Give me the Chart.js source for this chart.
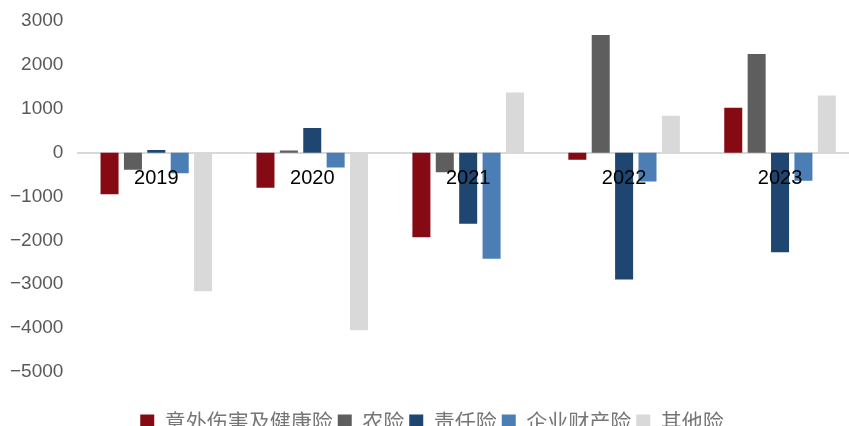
<!DOCTYPE html>
<html>
<head>
<meta charset="utf-8">
<script src="https://cdn.jsdelivr.net/npm/chart.js@4/dist/chart.umd.min.js"></script>
<style>
  html, body { margin: 0; padding: 0; background: #fff; overflow: hidden; }
  /* plot runs a little past the right edge, like the reference */
  #wrap { width: 858px; height: 426px; }
</style>
</head>
<body>
<div id="wrap"><canvas id="chart"></canvas></div>
<script>
// Data
const years = ['2019', '2020', '2021', '2022', '2023'];
const accidentHealth = [-950, -800, -1930, -160, 1020];
const agriculture = [-390, 50, -450, 2680, 2250];
const liability = [60, 560, -1620, -2890, -2270];
const enterpriseProperty = [-470, -340, -2420, -660, -640];
const others = [-3160, -4050, 1370, 840, 1300];

const seriesNames = ['意外伤害及健康险', '农险', '责任险', '企业财产险', '其他险'];
const seriesColors = ['#850A14', '#5E5E5E', '#1E4670', '#4A7EB4', '#D9D9D9'];
const seriesValues = [accidentHealth, agriculture, liability, enterpriseProperty, others];

const ctx = document.getElementById('chart').getContext('2d');

const chart = new Chart(ctx, {
    type: 'bar',
    data: {
        labels: years,
        datasets: seriesNames.map((name, i) => ({
            label: name,
            data: seriesValues[i],
            backgroundColor: seriesColors[i],
            barPercentage: 0.77,
            categoryPercentage: 0.75
        }))
    },
    options: {
        responsive: true,
        maintainAspectRatio: false,
        animation: false,
        layout: { padding: { top: 21, right: 0, left: 6, bottom: -16 } },
        plugins: {
            tooltip: { enabled: false },
            legend: {
                position: 'bottom',
                labels: {
                    font: { family: '"Noto Sans CJK SC", sans-serif', size: 21 },
                    color: '#767676',
                    boxWidth: 14,
                    boxHeight: 14,
                    padding: 5
                }
            }
        },
        scales: {
            x: {
                position: { y: 0 },
                grid: { display: false },
                border: { color: '#D9D9D9', width: 2 },
                ticks: {
                    z: 1, // year labels sit on top of the bars
                    font: { family: '"Liberation Sans", sans-serif', size: 20 },
                    color: '#000',
                    padding: 6
                }
            },
            // empty axis used only as a spacer between the plot and the legend
            gap: {
                type: 'category',
                position: 'bottom',
                grid: { display: false },
                border: { display: false },
                ticks: { display: false },
                afterFit: (scale) => { scale.height = 34; }
            },
            y: {
                min: -5000,
                max: 3000,
                grid: { display: false, tickLength: 11 },
                border: { display: false },
                ticks: {
                    stepSize: 1000,
                    font: { family: '"Liberation Sans", sans-serif', size: 19 },
                    color: '#595959',
                    padding: 4,
                    callback: (v) => (v < 0 ? '\u2212' + Math.abs(v) : String(v))
                }
            }
        }
    }
});
</script>
</body>
</html>
